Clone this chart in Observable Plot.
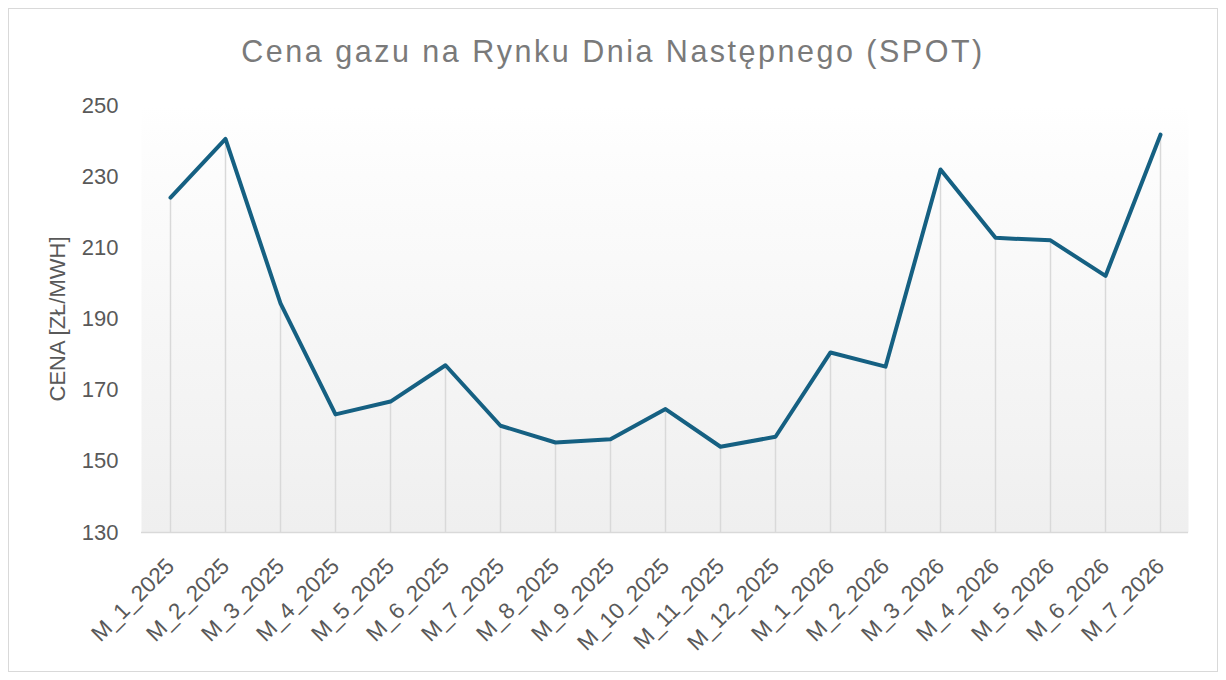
<!DOCTYPE html>
<html>
<head>
<meta charset="utf-8">
<script src="https://cdn.jsdelivr.net/npm/d3@7"></script>
<script src="https://cdn.jsdelivr.net/npm/@observablehq/plot@0.6"></script>
<style>
  html, body { margin: 0; padding: 0; background: #ffffff; }
  #wrap { position: relative; width: 1226px; height: 680px; overflow: hidden; }
  #border { position: absolute; left: 8px; top: 8px; width: 1208px; height: 662px; border: 1px solid #d9d9d9; pointer-events: none; }
  #title { height: 44px; padding-top: 36px; text-align: center; font-family: "Liberation Sans", sans-serif; font-size: 30.5px; line-height: 30px; letter-spacing: 2.5px; color: #7a7a7a; white-space: nowrap; }
  #chart svg { display: block; }
</style>
</head>
<body>
<div id="wrap">
  <div id="border"></div>
  <div id="title">Cena gazu na Rynku Dnia Następnego (SPOT)</div>
  <div id="chart"></div>
</div>
<script>
const months = ["M_1_2025","M_2_2025","M_3_2025","M_4_2025","M_5_2025","M_6_2025","M_7_2025","M_8_2025","M_9_2025","M_10_2025","M_11_2025","M_12_2025","M_1_2026","M_2_2026","M_3_2026","M_4_2026","M_5_2026","M_6_2026","M_7_2026"];
const prices = [224.1, 240.6, 194.4, 163.2, 166.8, 177.0, 160.0, 155.3, 156.2, 164.7, 154.1, 156.9, 180.6, 176.6, 232.0, 212.8, 212.1, 202.1, 241.8];
const yTicks = [130, 150, 170, 190, 210, 230, 250];
const yLabel = "CENA [ZŁ/MWH]";

const data = months.map((m, i) => ({month: m, price: prices[i]}));

const defs = () => {
  const ns = "http://www.w3.org/2000/svg";
  const d = document.createElementNS(ns, "defs");
  d.innerHTML = `<linearGradient id="bgGrad" x1="0" y1="0" x2="0" y2="1">
      <stop offset="0" stop-color="#ffffff"/>
      <stop offset="0.1" stop-color="#fdfdfd"/>
      <stop offset="1" stop-color="#efefef"/>
    </linearGradient>`;
  return d;
};

const chart = Plot.plot({
  width: 1226,
  height: 600,
  marginTop: 25,
  marginBottom: 148,
  marginLeft: 141,
  marginRight: 38,
  style: {fontFamily: "'Liberation Sans', Arial, sans-serif", fontSize: "22px", color: "#595959", background: "transparent"},
  x: {type: "point", domain: months, padding: 0.5},
  y: {domain: [130, 250]},
  marks: [
    defs,
    Plot.frame({fill: "url(#bgGrad)", stroke: null}),
    Plot.ruleX(data, {x: "month", y1: 130, y2: "price", stroke: "#d9d9d9", strokeWidth: 1.5}),
    Plot.ruleY([130], {stroke: "#d9d9d9", strokeWidth: 1.5}),
    Plot.line(data, {x: "month", y: "price", stroke: "#156082", strokeWidth: 4, strokeLinejoin: "round", strokeLinecap: "round"}),
    Plot.axisY({ticks: yTicks, tickSize: 0, tickPadding: 23, fontSize: 22, label: yLabel, labelAnchor: "center", labelOffset: 92, labelArrow: "none"}),
    Plot.axisX({tickSize: 0, tickPadding: 30, tickRotate: -45, fontSize: 22.5, label: null})
  ]
});
document.getElementById("chart").appendChild(chart);
</script>
</body>
</html>
